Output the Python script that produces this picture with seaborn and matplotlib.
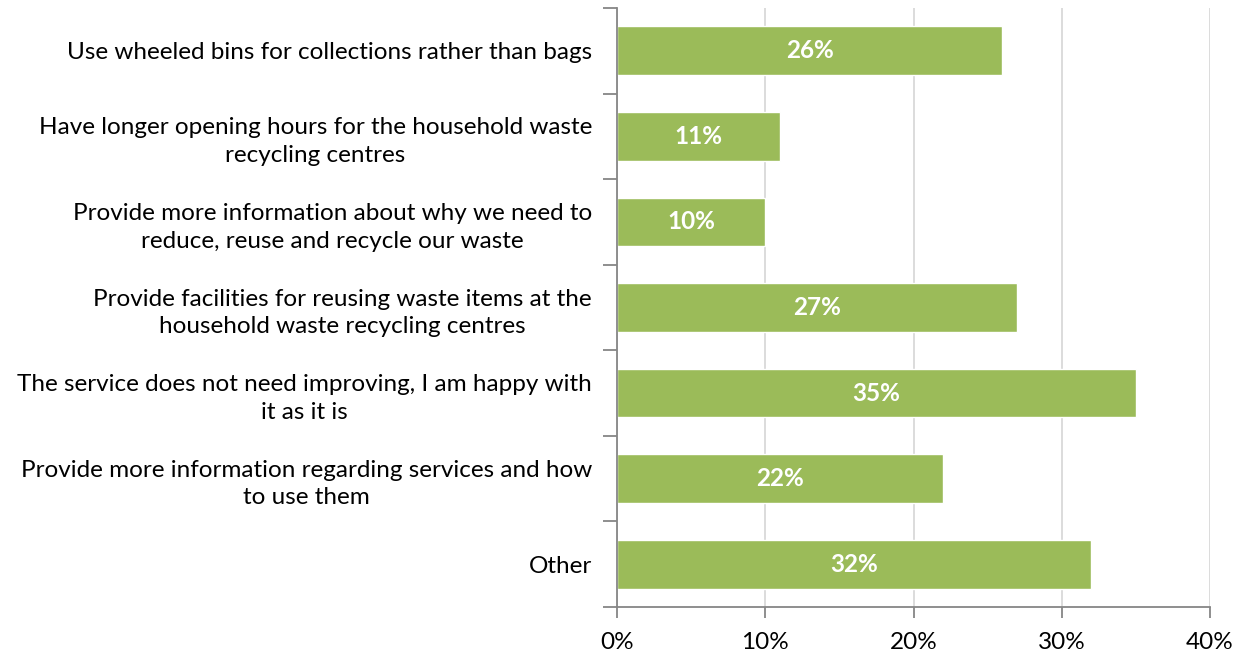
import matplotlib
matplotlib.use("Agg")
import matplotlib.pyplot as plt
import seaborn as sns
import pandas as pd
import numpy as np

categories = [
    "Use wheeled bins for collections rather than bags",
    "Have longer opening hours for the household waste\nrecycling centres",
    "Provide more information about why we need to\nreduce, reuse and recycle our waste",
    "Provide facilities for reusing waste items at the\nhousehold waste recycling centres",
    "The service does not need improving, I am happy with\nit as it is",
    "Provide more information regarding services and how\nto use them",
    "Other",
]
values = [26, 11, 10, 27, 35, 22, 32]
x_ticks = [0, 10, 20, 30, 40]
x_tick_labels = ["0%", "10%", "20%", "30%", "40%"]

sns.set_theme(style="white")
plt.rcParams["font.family"] = ["Lato", "DejaVu Sans"]

df = pd.DataFrame({"category": categories, "value": values})

fig = plt.figure(figsize=(12.42, 6.57), dpi=100)
ax = fig.add_axes([617 / 1242, 50 / 657, (1210 - 617) / 1242, (607 - 8) / 657])

sns.barplot(data=df, x="value", y="category", color="#9BBB59", saturation=1,
            width=0.57, orient="h", ax=ax, zorder=2)

ax.set_xlim(0, 40)
ax.set_ylim(len(categories) - 0.5, -0.5)
ax.set_xticks(x_ticks)
ax.set_xticklabels(x_tick_labels, fontsize=17.5, color="black")
ax.xaxis.grid(True, color="#D9D9D9", linewidth=1.3, zorder=0)
ax.set_axisbelow(True)
ax.set_xlabel("")
ax.set_ylabel("")

# category labels centred on bars, tick marks on category boundaries
ax.set_yticks(range(len(categories)))
ax.set_yticklabels(categories, fontsize=17.5, color="black")
for lbl in ax.get_yticklabels():
    lbl.set_multialignment("center")
    lbl.set_linespacing(1.4)
ax.tick_params(axis="y", which="major", length=0, pad=18)
ax.set_yticks(np.arange(-0.5, len(categories), 1), minor=True)
ax.tick_params(axis="y", which="minor", length=10, width=1.3, color="#868686", left=True)
ax.tick_params(axis="x", which="major", length=8, width=1.3, color="#868686",
               bottom=True, pad=10)

for side in ["top", "right"]:
    ax.spines[side].set_visible(False)
for side in ["left", "bottom"]:
    ax.spines[side].set_color("#868686")
    ax.spines[side].set_linewidth(1.3)

for i, v in enumerate(values):
    ax.text(v / 2, i, f"{v}%", ha="center", va="center", color="white",
            fontsize=17.5, fontweight="bold", zorder=3)

fig.savefig("out.png", dpi=100)
